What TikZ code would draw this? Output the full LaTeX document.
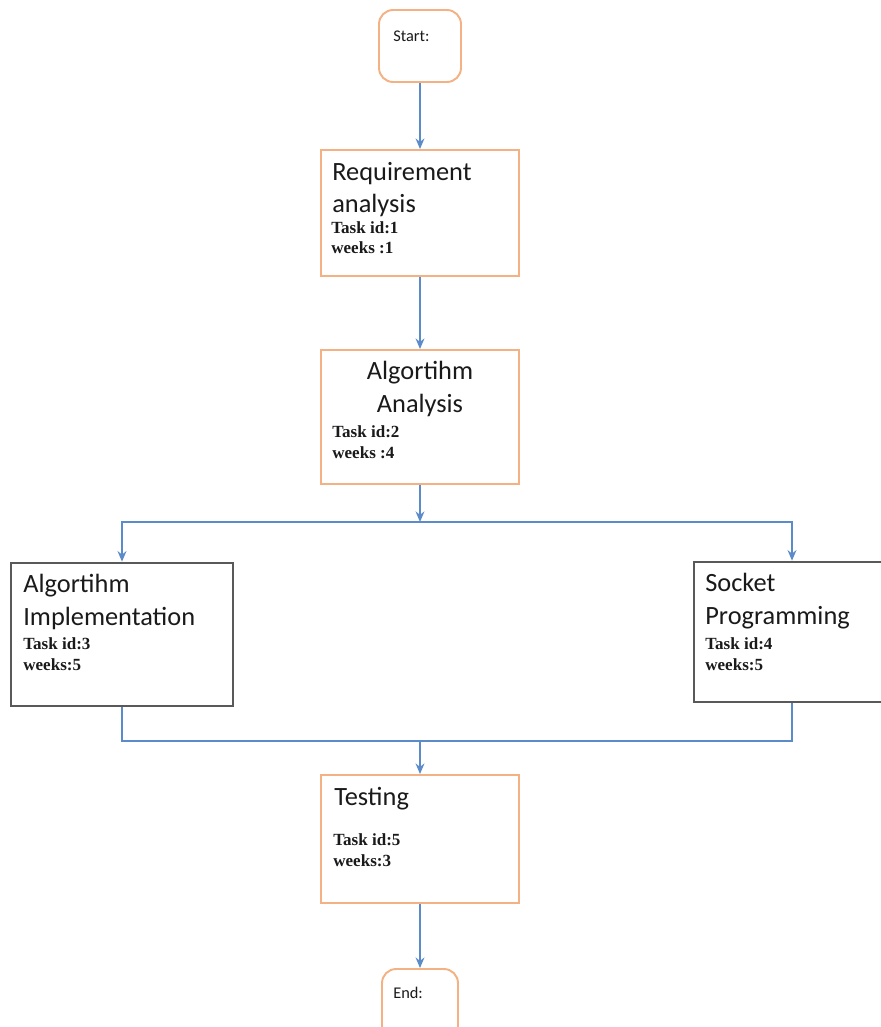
\documentclass[tikz,border=0pt]{standalone}
\usepackage{fontspec}
\setmainfont{Liberation Serif}
\newfontfamily\headfont{Carlito}
\usepackage{xcolor}
\definecolor{ink}{HTML}{1A1A1A}
\definecolor{peach}{HTML}{F4B183}
\definecolor{slate}{HTML}{595959}
\definecolor{flowblue}{HTML}{5B8BC9}
\usetikzlibrary{arrows.meta}

\begin{document}
\begin{tikzpicture}[
  x=0.02cm, y=-0.02cm,
  terminal/.style={draw=peach, line width=1.1pt, rounded corners=8pt, fill=white,
                   minimum width=1.64cm, minimum height=1.44cm},
  task/.style={draw=peach, line width=1.1pt, fill=white, minimum width=3.96cm},
  subtask/.style={draw=slate, line width=1.5pt, fill=white},
  head/.style={font=\headfont\fontsize{15}{18.4}\selectfont, text=ink, align=left,
               anchor=base west, inner sep=0pt},
  info/.style={font=\bfseries\fontsize{9.7}{11.6}\selectfont, text=ink, align=left,
               anchor=base west, inner sep=0pt},
  tag/.style={font=\headfont\fontsize{9.3}{11}\selectfont, text=ink, anchor=base west, inner sep=0pt},
  flow/.style={-{Stealth[length=6pt,width=5pt]}, flowblue, line width=1pt},
  link/.style={flowblue, line width=1pt}
]
  \useasboundingbox (0,0) rectangle (880,1027);

  % boxes (text nodes sit on the baseline of their last line)
  \node[terminal] (start) at (420,46) {};
  \node[tag] (starttxt) at (393,42) {Start:};

  \node[task, minimum height=2.52cm] (req) at (420,213) {};
  \node[head] (reqhead) at (332,213) {Requirement\\analysis};
  \node[info] (reqinfo) at (331,254) {Task id:1\\weeks :1};

  \node[task, minimum height=2.68cm] (alg) at (420,417) {};
  \node[head, align=center, anchor=base] (alghead) at (420,412) {Algortihm\\Analysis};
  \node[info] (alginfo) at (332,458) {Task id:2\\weeks :4};

  \node[subtask, minimum width=4.44cm, minimum height=2.86cm] (impl) at (122,634.5) {};
  \node[head] (implhead) at (23,625) {Algortihm\\Implementation};
  \node[info] (implinfo) at (23,670) {Task id:3\\weeks:5};

  \node[subtask, minimum width=3.92cm, minimum height=2.8cm] (sock) at (792,632) {};
  \node[head] (sockhead) at (705,624) {Socket\\Programming};
  \node[info] (sockinfo) at (705,670) {Task id:4\\weeks:5};

  \node[task, minimum height=2.56cm] (test) at (420,839) {};
  \node[head] (testhead) at (334,805) {Testing};
  \node[info] (testinfo) at (333,866) {Task id:5\\weeks:3};

  \node[terminal, minimum width=1.52cm] (finish) at (420,1005) {};
  \node[tag] (finishtxt) at (393,998) {End:};

  % connectors
  \coordinate (split) at (420,522);
  \coordinate (merge) at (420,741);

  \draw[flow] (start) -- (req);
  \draw[flow] (req) -- (alg);
  \draw[flow] (alg) -- (split);
  \draw[flow] (split) -| (impl);
  \draw[flow] (split) -| (sock);
  \draw[link] (impl) |- (merge);
  \draw[link] (sock) |- (merge);
  \draw[flow] (merge) -- (test);
  \draw[flow] (test) -- (finish);
\end{tikzpicture}
\end{document}
